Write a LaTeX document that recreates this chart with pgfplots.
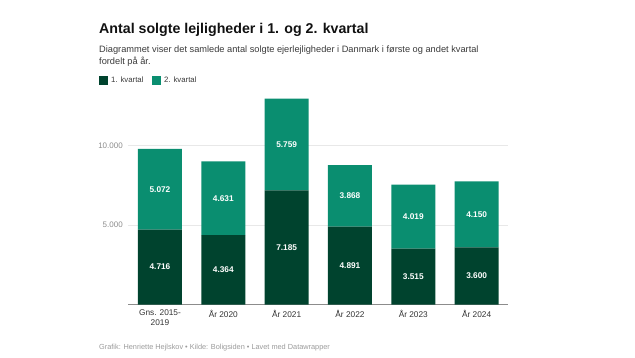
\documentclass[border=0pt]{standalone}
\usepackage{pgfplots}
\pgfplotsset{compat=1.18}
\usepackage{pgfplotstable}
\usepackage{fontspec}
\setmainfont{Liberation Sans}
\definecolor{darkg}{HTML}{00432E}
\definecolor{lightg}{HTML}{0A8E70}
\definecolor{gridc}{HTML}{E8E8E8}
\definecolor{ylab}{HTML}{8C8C8C}
\definecolor{xlab}{HTML}{333333}
\definecolor{footc}{HTML}{9A9A9A}
\definecolor{subc}{HTML}{3A3A3A}
\definecolor{titc}{HTML}{111111}
\pgfplotstableread{
x q1 l1 q2 l2
0 4716 4.716 5072 5.072
1 4364 4.364 4631 4.631
2 7185 7.185 5759 5.759
3 4891 4.891 3868 3.868
4 3515 3.515 4019 4.019
5 3600 3.600 4150 4.150
}\datatable
\begin{document}
\begin{tikzpicture}
\path[use as bounding box] (0pt,0pt) rectangle (635pt,357pt);
\node[anchor=base west, inner sep=0pt, text=titc, font=\fontsize{14.2}{17}\selectfont\bfseries] at (99pt,323pt) {Antal solgte lejligheder i 1. og 2. kvartal};
\node[anchor=base west, inner sep=0pt, text=subc, font=\fontsize{9.25}{12}\selectfont] at (99pt,304pt) {Diagrammet viser det samlede antal solgte ejerlejligheder i Danmark i første og andet kvartal};
\node[anchor=base west, inner sep=0pt, text=subc, font=\fontsize{9.25}{12}\selectfont] at (99pt,292pt) {fordelt på år.};
\fill[darkg] (99pt,272pt) rectangle (108pt,281pt);
\node[anchor=base west, inner sep=0pt, text=subc, font=\fontsize{7.8}{10}\selectfont] at (111pt,274pt) {1. kvartal};
\fill[lightg] (152pt,272pt) rectangle (161pt,281pt);
\node[anchor=base west, inner sep=0pt, text=subc, font=\fontsize{7.8}{10}\selectfont] at (164pt,274pt) {2. kvartal};
\node[anchor=base west, inner sep=0pt, text=footc, font=\fontsize{7.35}{9}\selectfont] at (99pt,8pt) {Grafik: Henriette Hejlskov • Kilde: Boligsiden • Lavet med Datawrapper};
\begin{axis}[
  at={(128.3pt,52.5pt)}, anchor=south west,
  scale only axis, width=380pt, height=214.65pt,
  ybar stacked, bar width=44pt,
  xmin=-0.5, xmax=5.5, ymin=0, ymax=13500,
  scaled y ticks=false, scaled x ticks=false,
  axis lines*=left,
  y axis line style={draw=none},
  x axis line style={draw=ylab, line width=1pt},
  major tick length=0pt,
  ytick={5000,10000}, yticklabels={5.000,10.000},
  ymajorgrids, grid style={draw=gridc, line width=0.8pt},
  yticklabel style={text=ylab, font=\fontsize{8}{10}\selectfont, xshift=-2pt},
  xtick=data,
  xticklabels={{Gns. 2015-\\2019},{År 2020},{År 2021},{År 2022},{År 2023},{År 2024}},
  xticklabel style={text=xlab, align=center, font=\fontsize{8.3}{9.5}\selectfont, yshift=-2pt},
  nodes near coords,
  point meta=explicit symbolic,
  every node near coord/.append style={font=\fontsize{8.3}{10}\selectfont\bfseries, text=white, anchor=center},
]
\addplot[fill=darkg, draw=none] table[x=x, y=q1, meta=l1] {\datatable};
\addplot[fill=lightg, draw=none] table[x=x, y=q2, meta=l2] {\datatable};
\end{axis}
\end{tikzpicture}
\end{document}
